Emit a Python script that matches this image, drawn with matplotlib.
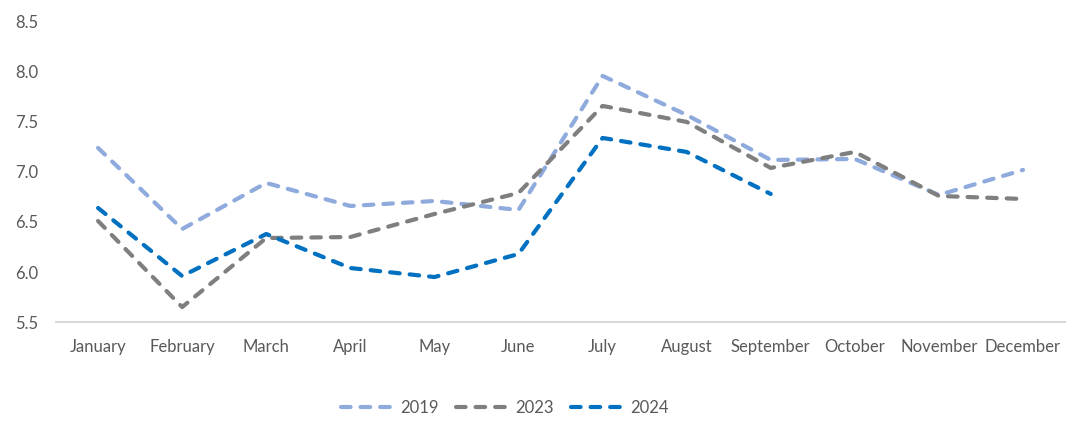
import numpy as np
import matplotlib.pyplot as plt

plt.rcParams['font.family'] = ['Lato', 'DejaVu Sans']

months = ['January', 'February', 'March', 'April', 'May', 'June', 'July',
          'August', 'September', 'October', 'November', 'December']

# values
y2019 = [7.24, 6.43, 6.89, 6.66, 6.71, 6.62, 7.96, 7.57, 7.12, 7.13, 6.77, 7.02]
y2023 = [6.51, 5.65, 6.34, 6.35, 6.58, 6.79, 7.66, 7.50, 7.04, 7.20, 6.76, 6.73]
y2024 = [6.64, 5.96, 6.38, 6.04, 5.95, 6.18, 7.34, 7.20, 6.78]

series = [('2019', y2019, '#8FAADC'),
          ('2023', y2023, '#7F7F7F'),
          ('2024', y2024, '#0070C0')]

fig = plt.figure(figsize=(10.9, 4.37), dpi=100)
ax = fig.add_axes([0.0514, 0.263, 0.9257, 0.687])

x = np.arange(len(months))
for name, vals, col in series:
    ax.plot(x[:len(vals)], vals, color=col, lw=3, dashes=(2.3, 2.4),
            dash_capstyle='round', solid_capstyle='round', label=name)

ax.set_xlim(-0.5, len(months) - 0.5)
ax.set_ylim(5.5, 8.5)
ax.set_yticks(np.arange(5.5, 8.51, 0.5))
ax.set_yticklabels([f'{v:.1f}' for v in np.arange(5.5, 8.51, 0.5)])
ax.set_xticks(x)
ax.set_xticklabels(months)

for s in ['top', 'right', 'left']:
    ax.spines[s].set_visible(False)
ax.spines['bottom'].set_color('#D9D9D9')
ax.spines['bottom'].set_linewidth(1.5)
ax.tick_params(axis='both', length=0, labelsize=12, colors='#595959')
ax.tick_params(axis='x', pad=12)
ax.tick_params(axis='y', pad=13)

fig.legend(loc='center', bbox_to_anchor=(0.463, 0.066), ncol=3, frameon=False,
           fontsize=12, labelcolor='#595959', handlelength=3.1,
           handletextpad=0.45, columnspacing=1.05)

fig.savefig('out.png', dpi=100)
